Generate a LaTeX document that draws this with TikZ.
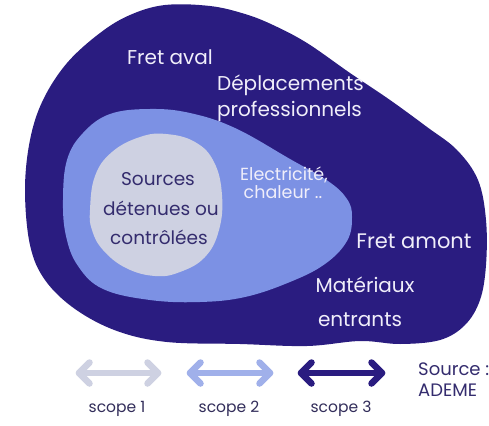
\documentclass[tikz,border=0pt]{standalone}
\usepackage{fontspec}
\setmainfont{Poppins}
\definecolor{navy}{RGB}{42,28,128}
\definecolor{midblue}{RGB}{124,145,228}
\definecolor{paleg}{RGB}{206,209,226}
\definecolor{arrowmid}{RGB}{160,176,234}
\definecolor{lighttxt}{RGB}{240,238,250}
\definecolor{darktxt}{RGB}{52,44,110}
\definecolor{greytxt}{RGB}{50,45,90}
\tikzset{
  wtxt/.style={text=lighttxt, inner sep=0pt, font=\fontsize{20}{22}\selectfont},
  dtxt/.style={text=darktxt, inner sep=0pt, font=\fontsize{18.5}{20}\selectfont},
  etxt/.style={text=lighttxt, inner sep=0pt, font=\fontsize{17.5}{19}\selectfont},
  stxt/.style={text=greytxt, inner sep=0pt, font=\fontsize{15.5}{17}\selectfont},
  srctxt/.style={text=darktxt, inner sep=0pt, anchor=west, font=\fontsize{18}{20}\selectfont},
  dblarrow/.style={line width=6.5pt, line cap=round, line join=round},
}
\begin{document}
\begin{tikzpicture}[x=1pt,y=-1pt]
\useasboundingbox (0,0) rectangle (489,425);
\fill[white] (0,0) rectangle (489,425);
% scope 3 blob
\fill[navy] plot[smooth cycle, tension=0.6] coordinates {
 (25,190) (30,140) (43,100) (67,63) (100,33) (130,15) (165,5) (210,6) (245,14)
 (273,25) (307,43) (350,73) (390,100) (427,127) (457,150) (478,180) (486,220)
 (486,265) (480,300) (465,325) (440,340) (400,344) (360,341) (307,346) (240,344)
 (167,342) (117,331) (75,309) (45,280) (30,245)};
% scope 2 blob
\fill[midblue] plot[smooth cycle, tension=0.65] coordinates {
 (63,200) (67,160) (83,133) (110,114) (150,109) (190,113) (235,128) (290,159)
 (328,181) (347,199) (352,217) (347,241) (325,264) (290,282) (245,297) (200,302)
 (150,300) (103,289) (78,266) (66,236)};
% scope 1 blob
\fill[paleg] plot[smooth cycle, tension=0.7] coordinates {
 (90,210) (95,176) (112,152) (140,137) (166,134) (195,142) (214,162) (222,195)
 (219,230) (205,257) (180,272) (155,276) (126,268) (103,250) (92,230)};

\node[wtxt] (fretaval) at (170,57) {Fret aval};
\node[wtxt, anchor=west] (depl) at (217,85) {Déplacements};
\node[wtxt, anchor=west] (prof) at (217,111) {professionnels};
\node[dtxt] (src1) at (158,179) {Sources};
\node[dtxt] (src2) at (161,208) {détenues ou};
\node[dtxt] (src3) at (159,237) {contrôlées};
\node[etxt] (elec) at (284,175) {Electricité,};
\node[etxt] (chal) at (283,192) {chaleur ..};
\node[wtxt, font=\fontsize{21}{23}\selectfont] (fretamont) at (414,241) {Fret amont};
\node[wtxt] (mat) at (365,285) {Matériaux};
\node[wtxt] (entr) at (360,320) {entrants};

% legend arrows
\coordinate (a1l) at (79,373); \coordinate (a1r) at (158,373);
\coordinate (a2l) at (190,373); \coordinate (a2r) at (270,373);
\coordinate (a3l) at (301,373); \coordinate (a3r) at (382,373);
\draw[dblarrow, paleg] (a1l) -- (a1r);
\draw[dblarrow, paleg] ([shift={(10.5,-10.5)}]a1l) -- (a1l) -- ([shift={(10.5,10.5)}]a1l);
\draw[dblarrow, paleg] ([shift={(-10.5,-10.5)}]a1r) -- (a1r) -- ([shift={(-10.5,10.5)}]a1r);
\draw[dblarrow, arrowmid] (a2l) -- (a2r);
\draw[dblarrow, arrowmid] ([shift={(10.5,-10.5)}]a2l) -- (a2l) -- ([shift={(10.5,10.5)}]a2l);
\draw[dblarrow, arrowmid] ([shift={(-10.5,-10.5)}]a2r) -- (a2r) -- ([shift={(-10.5,10.5)}]a2r);
\draw[dblarrow, navy] (a3l) -- (a3r);
\draw[dblarrow, navy] ([shift={(10.5,-10.5)}]a3l) -- (a3l) -- ([shift={(10.5,10.5)}]a3l);
\draw[dblarrow, navy] ([shift={(-10.5,-10.5)}]a3r) -- (a3r) -- ([shift={(-10.5,10.5)}]a3r);

\node[stxt] (s1) at (117,409) {scope 1};
\node[stxt] (s2) at (229,409) {scope 2};
\node[stxt] (s3) at (341,409) {scope 3};
\node[srctxt] (source) at (418,369) {Source :};
\node[srctxt] (ademe) at (418,390) {ADEME};
\end{tikzpicture}
\end{document}
